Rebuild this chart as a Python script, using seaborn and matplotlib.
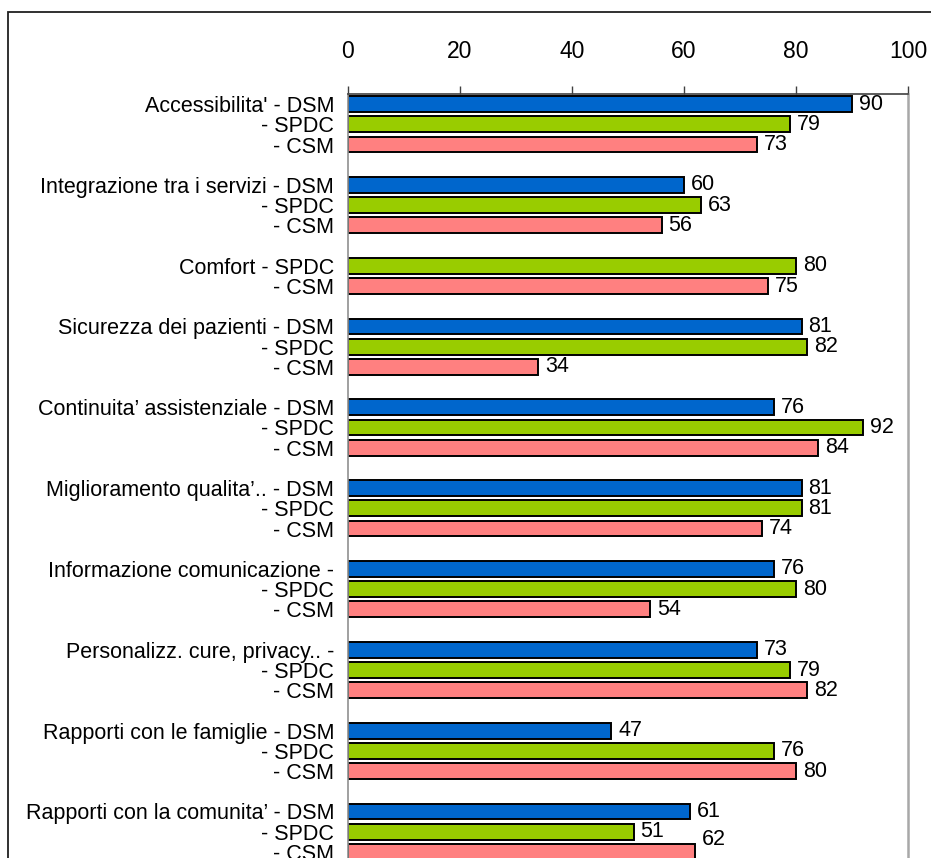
import pandas as pd
import matplotlib
matplotlib.use('Agg')
import matplotlib.pyplot as plt
import seaborn as sns
from matplotlib.patches import Rectangle

# rows of the chart, top to bottom ('' = blank spacer row)
row_labels = [
    "Accessibilita' - DSM", "- SPDC", "- CSM", "",
    "Integrazione tra i servizi - DSM", "- SPDC", "- CSM", "",
    "Comfort - SPDC", "- CSM", "",
    "Sicurezza dei pazienti - DSM", "- SPDC", "- CSM", "",
    "Continuita\u2019 assistenziale - DSM", "- SPDC", "- CSM", "",
    "Miglioramento qualita\u2019.. - DSM", "- SPDC", "- CSM", "",
    "Informazione comunicazione -", "- SPDC", "- CSM", "",
    "Personalizz. cure, privacy.. -", "- SPDC", "- CSM", "",
    "Rapporti con le famiglie - DSM", "- SPDC", "- CSM", "",
    "Rapporti con la comunita\u2019 - DSM", "- SPDC", "- CSM",
]
row_series = [
    "DSM", "SPDC", "CSM", None,
    "DSM", "SPDC", "CSM", None,
    "SPDC", "CSM", None,
    "DSM", "SPDC", "CSM", None,
    "DSM", "SPDC", "CSM", None,
    "DSM", "SPDC", "CSM", None,
    "DSM", "SPDC", "CSM", None,
    "DSM", "SPDC", "CSM", None,
    "DSM", "SPDC", "CSM", None,
    "DSM", "SPDC", "CSM",
]
row_values = [
    90, 79, 73, None,
    60, 63, 56, None,
    80, 75, None,
    81, 82, 34, None,
    76, 92, 84, None,
    81, 81, 74, None,
    76, 80, 54, None,
    73, 79, 82, None,
    47, 76, 80, None,
    61, 51, 62,
]
colors = {"DSM": "#0066CC", "SPDC": "#99CC00", "CSM": "#FF8080"}

keys = ["r%d" % i for i in range(len(row_labels))]
df = pd.DataFrame({"row": keys, "serie": row_series, "valore": row_values}).dropna()

sns.set_style("white")
plt.rcParams['font.family'] = ['Liberation Sans', 'DejaVu Sans']
plt.rcParams['text.color'] = 'black'
plt.rcParams['xtick.color'] = 'black'
plt.rcParams['ytick.color'] = 'black'

fig = plt.figure(figsize=(9.31, 8.58), dpi=100)
fig.patches.append(Rectangle((8 / 931, -0.1), 1.0, 1.1 - 12 / 858, transform=fig.transFigure,
                             fill=False, edgecolor='#202020', linewidth=1.3))

ax = fig.add_axes([348 / 931, -4 / 858, 560 / 931, 768 / 858])
sns.barplot(data=df, y="row", x="valore", hue="serie", order=keys,
            hue_order=["DSM", "SPDC", "CSM"], palette=colors, dodge=False,
            saturation=1, width=0.78, edgecolor="black", linewidth=1.4,
            legend=False, ax=ax)

ax.set_xlim(0, 100)
ax.set_ylim(len(keys) - 0.5, -0.5)
ax.set_xticks([0, 20, 40, 60, 80, 100])
ax.xaxis.tick_top()
ax.tick_params(axis='x', direction='out', length=6, width=1, color='#404040',
               labelsize=16.5, pad=16, top=True, bottom=False)
ax.set_yticks(range(len(keys)))
ax.set_yticklabels(row_labels)
ax.tick_params(axis='y', length=0, labelsize=15.5, pad=10)
ax.set_xlabel("")
ax.set_ylabel("")

ax.spines['top'].set_color('#404040')
ax.spines['top'].set_linewidth(1.2)
ax.spines['left'].set_color('#909090')
ax.spines['right'].set_color('#a8a8a8')
ax.spines['left'].set_linewidth(1.2)
ax.spines['right'].set_linewidth(1.8)
ax.spines['bottom'].set_visible(False)

labels = []
for c in ax.containers:
    labels += ax.bar_label(c, fmt='%g', padding=5, fontsize=15.5, color='black')
# last label sits higher in the original
for t in labels:
    if t.get_text() == '62' and t.xy[1] > len(keys) - 2:
        t.xyann = (t.xyann[0], 9)

fig.savefig("out.png", dpi=100)
